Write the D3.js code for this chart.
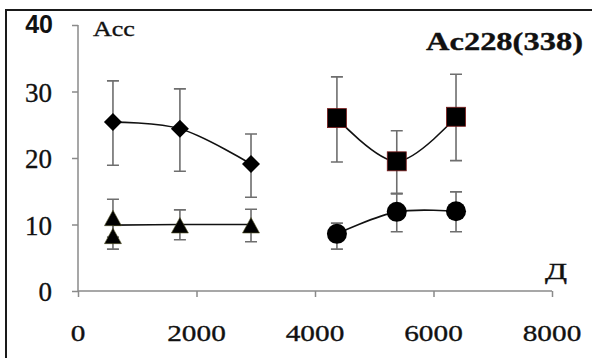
<!DOCTYPE html>
<html>
<head>
<meta charset="utf-8">
<script src="https://cdn.jsdelivr.net/npm/d3@7"></script>
<style>
  body { margin: 0; background: #fff; }
  svg { display: block; }
</style>
</head>
<body>
<script>
// data
const diamonds = [
    {x: 590, y: 25.4, lo: 18.9, hi: 31.6},
    {x: 1720, y: 24.4, lo: 18.0, hi: 30.4},
    {x: 2920, y: 19.1, lo: 14.1, hi: 23.6},
]
const triangles = [
    {x: 590, y: 10.8, lo: 8.1, hi: 13.8},
    {x: 590, y: 8.1, lo: 6.3, hi: 10.4},
    {x: 1720, y: 9.7, lo: 7.7, hi: 12.2},
    {x: 2920, y: 9.7, lo: 7.4, hi: 12.3},
]
const triangleLine = [
    {x: 590, y: 9.9},
    {x: 1720, y: 10.0},
    {x: 2920, y: 10.0},
]
const squares = [
    {x: 4370, y: 26.0, lo: 19.4, hi: 32.2},
    {x: 5380, y: 19.5, lo: 14.7, hi: 24.1},
    {x: 6380, y: 26.2, lo: 19.6, hi: 32.6},
]
const circles = [
    {x: 4370, y: 8.6, lo: 6.3, hi: 10.2},
    {x: 5380, y: 11.9, lo: 8.9, hi: 14.6},
    {x: 6380, y: 12.0, lo: 8.9, hi: 14.9},
]
const xTicks = [0, 2000, 4000, 6000, 8000]
const yTicks = [0, 10, 20, 30, 40]
const yLabel = 'Acc'
const xLabel = 'Д'
const title = 'Ac228(338)'

const W = 592, H = 358
const x = d3.scaleLinear().domain([0, 8000]).range([78, 552])
const y = d3.scaleLinear().domain([0, 40]).range([291, 25])
const SERIF = "'Liberation Serif', 'Times New Roman', serif"

const svg = d3.select('body').append('svg')
    .attr('width', W)
    .attr('height', H)

// outer frame (cut off at right/bottom in the original)
svg.append('path')
    .attr('d', `M6,${H + 2} V10 H${W + 2}`)
    .attr('fill', 'none')
    .attr('stroke', '#1a1a1a')
    .attr('stroke-width', 2)

// stretched text helper, the scan is wider than it is tall
function label(g, tx, ty, txt, size, sx, anchor, weight) {
    return g.append('text')
        .attr('transform', `translate(${tx},${ty}) scale(${sx},1)`)
        .attr('text-anchor', anchor)
        .attr('font-family', SERIF)
        .attr('font-size', size)
        .attr('font-weight', weight || 'normal')
        .attr('fill', '#111')
        .attr('stroke', '#111')
        .attr('stroke-width', 0.35)
        .text(txt)
}

// axes
const axisColor = '#8a8a8a'
const xAxis = svg.append('g')
    .attr('transform', `translate(0,${y(0)})`)
    .call(d3.axisBottom(x).tickValues(xTicks).tickSize(6).tickFormat(''))
const yAxis = svg.append('g')
    .attr('transform', `translate(${x(0)},0)`)
    .call(d3.axisLeft(y).tickValues(yTicks).tickSize(6).tickFormat(''))
for (const ax of [xAxis, yAxis]) {
    ax.select('.domain').attr('stroke', axisColor).attr('stroke-width', 1.5)
    ax.selectAll('.tick line').attr('stroke', axisColor).attr('stroke-width', 1.5)
}
// plain domain lines, no outer ticks
yAxis.select('.domain').attr('d', `M0,${y(40)} V${y(0)}`)
xAxis.select('.domain').attr('d', `M${x(0)},0 H${x(8000)}`)

const lbl = svg.append('g')
for (const t of xTicks) {
    label(lbl, x(t), 341, d3.format('d')(t), 24, 1.22, 'middle')
}
for (const t of yTicks) {
    if (t === 40) {
        lbl.append('text')
            .attr('x', 53).attr('y', y(t) + 8)
            .attr('text-anchor', 'end')
            .attr('font-family', "'Liberation Sans', Arial, sans-serif")
            .attr('font-weight', 'bold')
            .attr('font-size', 25)
            .attr('fill', '#111')
            .text(t)
    } else {
        label(lbl, 52, y(t) + 10, t, 27, 1, 'end')
    }
}
label(lbl, 93, 36, yLabel, 21, 1.24, 'start')
label(lbl, 545, 279, xLabel, 24, 1.35, 'start')
label(lbl, 583, 50, title, 25, 1.3, 'end', 'bold')

// smoothed lines like Excel
const line = d3.line()
    .x(d => x(d.x))
    .y(d => y(d.y))
    .curve(d3.curveCatmullRom.alpha(0.5))

const lines = svg.append('g')
    .attr('fill', 'none')
    .attr('stroke', '#111')
    .attr('stroke-width', 1.6)
lines.append('path').attr('d', line(diamonds))
lines.append('path').attr('d', line(triangleLine))
lines.append('path').attr('d', line(squares))
lines.append('path').attr('d', line(circles))

// error bars
const capW = 6
const errG = svg.append('g')
    .attr('stroke', '#6e6e6e')
    .attr('stroke-width', 1.6)
    .attr('fill', 'none')
for (const d of [...diamonds, ...triangles, ...squares, ...circles]) {
    const cx = x(d.x)
    errG.append('path')
        .attr('d', `M${cx},${y(d.hi)} V${y(d.lo)} M${cx - capW},${y(d.hi)} H${cx + capW} M${cx - capW},${y(d.lo)} H${cx + capW}`)
}

// markers
const mk = svg.append('g').attr('fill', '#000')
mk.selectAll('path.diamond')
    .data(diamonds)
    .join('path')
    .attr('class', 'diamond')
    .attr('transform', d => `translate(${x(d.x)},${y(d.y)})`)
    .attr('d', 'M0,-9 L9,0 L0,9 L-9,0 Z')
mk.selectAll('path.tri')
    .data(triangles)
    .join('path')
    .attr('class', 'tri')
    .attr('transform', d => `translate(${x(d.x)},${y(d.y)})`)
    .attr('d', 'M0,-9 L8.5,6.5 L-8.5,6.5 Z')
    .attr('stroke', '#55552a')
    .attr('stroke-width', 0.6)
mk.selectAll('rect.sq')
    .data(squares)
    .join('rect')
    .attr('class', 'sq')
    .attr('x', d => x(d.x) - 9.5)
    .attr('y', d => y(d.y) - 9.5)
    .attr('width', 19)
    .attr('height', 19)
    .attr('stroke', '#7a1a1a')
    .attr('stroke-width', 0.8)
mk.selectAll('circle.dot')
    .data(circles)
    .join('circle')
    .attr('class', 'dot')
    .attr('cx', d => x(d.x))
    .attr('cy', d => y(d.y))
    .attr('r', 10)
</script>
</body>
</html>
